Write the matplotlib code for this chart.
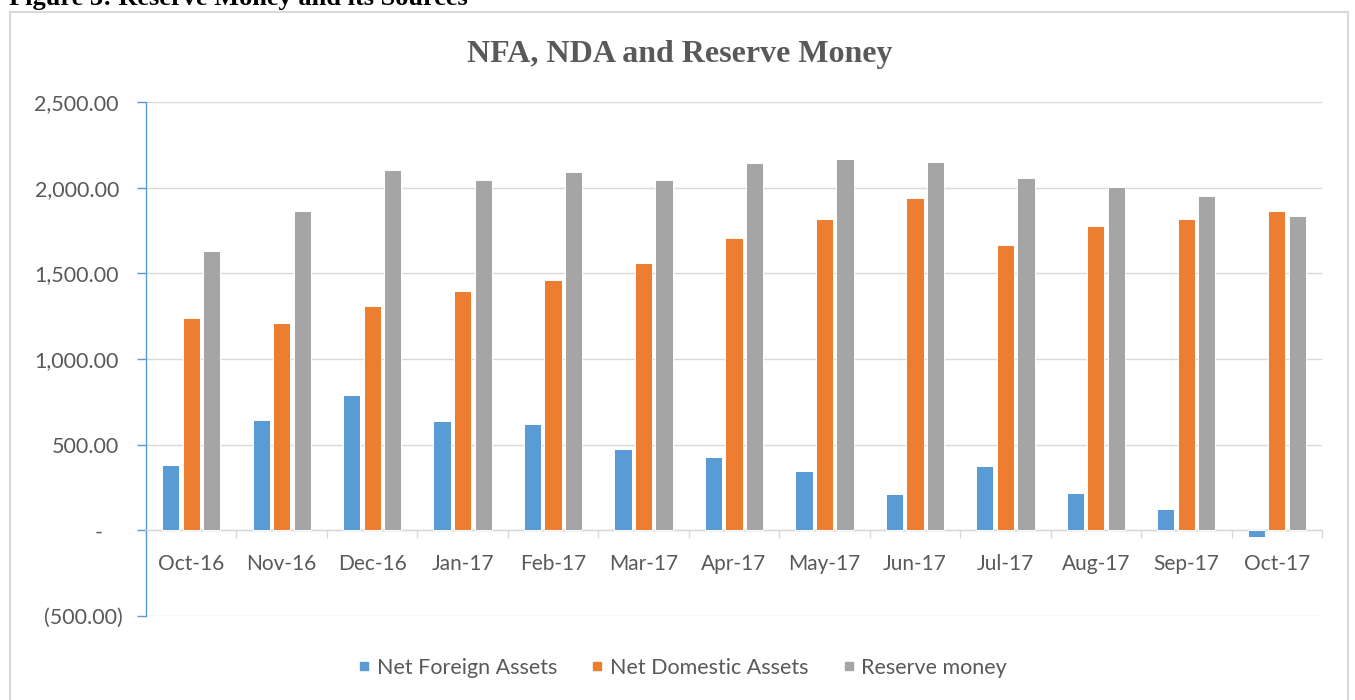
import matplotlib
matplotlib.use('Agg')
import matplotlib.pyplot as plt
import matplotlib.transforms as mtransforms
from matplotlib.patches import Rectangle
from matplotlib.lines import Line2D
import numpy as np

# data
months = ['Oct-16', 'Nov-16', 'Dec-16', 'Jan-17', 'Feb-17', 'Mar-17', 'Apr-17',
          'May-17', 'Jun-17', 'Jul-17', 'Aug-17', 'Sep-17', 'Oct-17']
nfa = [383, 646, 789, 639, 623, 472, 428, 346, 211, 375, 219, 127, -39]
nda = [1240, 1209, 1309, 1397, 1459, 1563, 1706, 1819, 1940, 1668, 1774, 1819, 1866]
reserve = [1631, 1864, 2104, 2045, 2090, 2045, 2143, 2165, 2151, 2059, 2006, 1954, 1835]
series_names = ['Net Foreign Assets', 'Net Domestic Assets', 'Reserve money']
y_ticks = [-500, 0, 500, 1000, 1500, 2000, 2500]
y_tick_labels = ['(500.00)', '-', '500.00', '1,000.00', '1,500.00', '2,000.00', '2,500.00']

colors = ['#5B9BD5', '#ED7D31', '#A5A5A5']
txt_color = '#595959'
grid_color = '#D9D9D9'

plt.rcParams['font.family'] = ['Lato', 'DejaVu Sans']

W, H = 1355, 700
fig = plt.figure(figsize=(W / 100, H / 100), dpi=100)
ax = fig.add_axes([146 / W, 1 - 616 / H, 1176 / W, 514 / H])

x = np.arange(len(months))
step = 0.227
for i, (vals, name) in enumerate(zip([nfa, nda, reserve], series_names)):
    ax.bar(x + (i - 1) * step, vals, width=0.19, color=colors[i],
           edgecolor='white', linewidth=0.7, label=name, zorder=3)

ax.set_xlim(-0.5, len(months) - 0.5)
ax.set_ylim(-500, 2500)

# y axis
ax.set_yticks(y_ticks)
ax.set_yticklabels(y_tick_labels)
ax.tick_params(axis='y', length=6.5, width=1, color='#5B9BD5', pad=13,
               labelsize=15.5, labelcolor=txt_color)
ax.grid(axis='y', color=grid_color, linewidth=1, zorder=0)
ax.set_axisbelow(True)

# category axis sits on zero
ax.spines['bottom'].set_position(('data', 0))
ax.spines['bottom'].set_color(grid_color)
ax.spines['bottom'].set_linewidth(1)
ax.spines['left'].set_color('#5B9BD5')
ax.spines['left'].set_linewidth(1)
ax.spines['top'].set_visible(False)
ax.spines['right'].set_visible(False)

ax.set_xticks(x)
ax.set_xticklabels(months)
ax.set_xticks(np.arange(-0.5, len(months), 1), minor=True)
ax.tick_params(axis='x', which='major', length=0, pad=17, labelsize=15,
               labelcolor=txt_color)
ax.tick_params(axis='x', which='minor', length=6, width=1, color=grid_color)

# accounting-style alignment of "-" and "(500.00)"
for tick in ax.yaxis.get_major_ticks():
    lbl = tick.label1
    if lbl.get_text() == '-':
        lbl.set_transform(lbl.get_transform() +
                          mtransforms.ScaledTranslation(-0.16, 0, fig.dpi_scale_trans))
    elif lbl.get_text().startswith('('):
        lbl.set_transform(lbl.get_transform() +
                          mtransforms.ScaledTranslation(0.04, 0, fig.dpi_scale_trans))

# legend with small square keys
handles = [Line2D([], [], marker='s', linestyle='none', markersize=6,
                  markerfacecolor=c, markeredgecolor=c) for c in colors]
fig.legend(handles, series_names, loc='center',
           bbox_to_anchor=(683 / W, 1 - 668 / H), ncol=3,
           frameon=False, fontsize=15.5, labelcolor=txt_color,
           handlelength=0.5, handletextpad=0.35, columnspacing=1.6)

# titles
fig.text(680 / W, 1 - 62 / H, 'NFA, NDA and Reserve Money', ha='center',
         va='baseline', family='Liberation Serif', weight='bold', size=23,
         color=txt_color)
fig.text(9 / W, 1 - 5 / H, 'Figure 3: Reserve Money and its Sources', ha='left',
         va='baseline', family='Liberation Serif', weight='bold', size=19,
         color='black')

# chart frame
fig.add_artist(Rectangle((10 / W, -0.1), (1348 - 10) / W, 1 - 12 / H + 0.1,
                         transform=fig.transFigure, fill=False,
                         edgecolor=grid_color, linewidth=1.5))

fig.savefig('out.png', dpi=100)
